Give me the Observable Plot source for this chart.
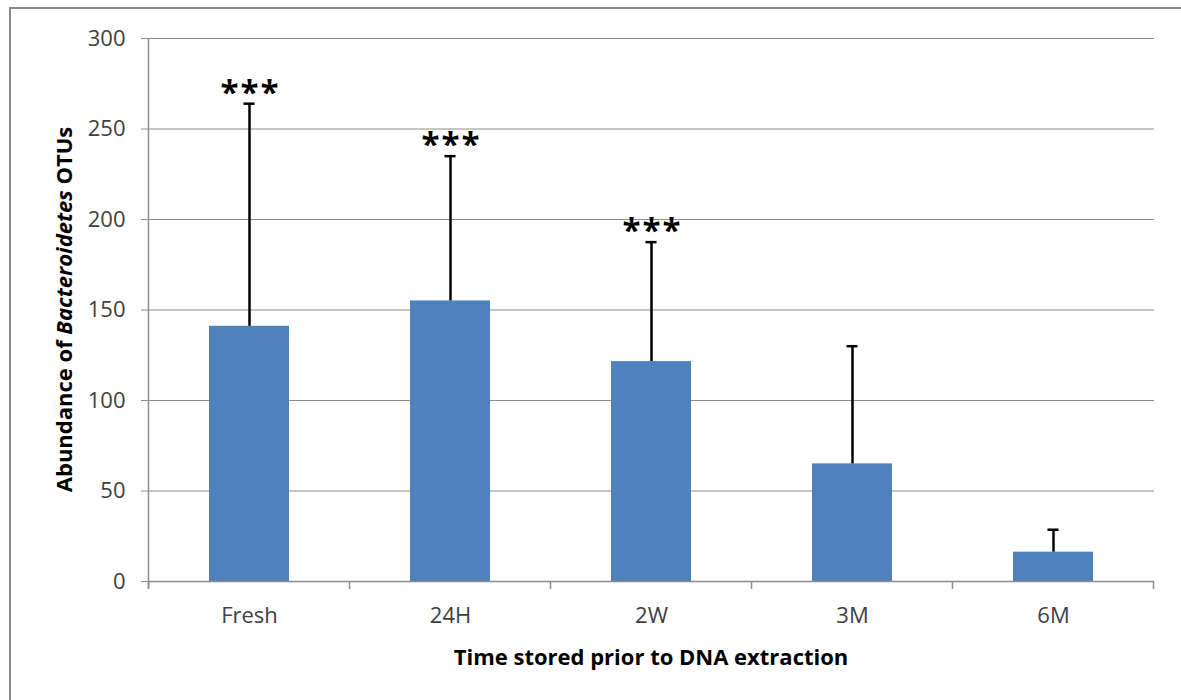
<!DOCTYPE html>
<html><head><meta charset="utf-8">
<script src="https://cdn.jsdelivr.net/npm/d3@7"></script>
<script src="https://cdn.jsdelivr.net/npm/@observablehq/plot@0.6"></script>
<style>
body{margin:0;background:#fff;overflow:hidden;width:1181px;height:700px;position:relative}
#frame{position:absolute;left:9px;top:7px;width:1200px;height:800px;border:2px solid #8c8c8c;box-sizing:border-box;pointer-events:none}
</style></head><body><div id="chart"></div><div id="frame"></div>
<script>
const categories = ["Fresh","24H","2W","3M","6M"];
const means = [141, 155, 121.5, 65, 16.2];
const errors = [123, 80, 66, 65, 12.4];
const stars = ["***","***","***","",""];
const yTicks = [0,50,100,150,200,250,300];
const xTitle = "Time stored prior to DNA extraction";
const yTitleParts = [["Abundance of ", false], ["Bacteroidetes", true], [" OTUs", false]];

const data = categories.map((c,i)=>({cat:c, mean:means[i], top:means[i]+errors[i], star:stars[i]}));
const font = "'Open Sans', sans-serif";
const plot = Plot.plot({
  width:1181, height:700, marginLeft:149, marginRight:27, marginTop:38, marginBottom:119,
  style:{fontFamily:font, fontSize:"22px", color:"#404040", background:"white", overflow:"visible"},
  x:{domain:categories, paddingInner:0.6, paddingOuter:0.3, label:null},
  y:{domain:[0,300], label:null},
  marks:[
    Plot.gridY(yTicks,{stroke:"#8c8c8c", strokeOpacity:1, strokeWidth:1.2}),
    Plot.axisY(yTicks,{tickSize:8, tickPadding:16, stroke:"#8c8c8c", fill:"#404040", label:null, fontSize:22}),
    Plot.axisX({tickSize:0, tickPadding:26, label:null, fontSize:22, fill:"#404040"}),
    Plot.barY(data,{x:"cat", y:"mean", fill:"#4F81BD"}),
    Plot.ruleX(data,{x:"cat", y1:"mean", y2:"top", stroke:"black", strokeWidth:2.5}),
    Plot.tickY(data,{x:"cat", y:"top", stroke:"black", strokeWidth:2.5, insetLeft:34.5, insetRight:34.5}),
    Plot.text(data,{x:"cat", y:"top", text:"star", lineAnchor:"bottom", dy:0, dx:1, fontWeight:"bold", fontSize:33, fill:"black", className:"stars"}),
    Plot.ruleY([0],{stroke:"#8c8c8c", strokeWidth:1.5})
  ]
});
document.getElementById("chart").appendChild(plot);

const svg = d3.select(plot);
svg.selectAll(".stars text").style("letter-spacing","2px");
const xs = plot.scale("x"), ys = plot.scale("y");
const step = xs.step, bw = xs.bandwidth;
const y0 = ys.apply(0), yTop = ys.apply(300);
const left = xs.apply(categories[0]) - (step - bw)/2;
const g = svg.append("g").attr("stroke","#8c8c8c").attr("stroke-width",1.5);
g.append("line").attr("x1",left).attr("x2",left).attr("y1",yTop).attr("y2",y0+8);
for (let i=0;i<=categories.length;i++){
  const x = left + i*step;
  g.append("line").attr("x1",x).attr("x2",x).attr("y1",y0).attr("y2",y0+8);
}
const right = left + categories.length*step;
svg.append("text").attr("x",(left+right)/2).attr("y",y0+84).attr("text-anchor","middle")
  .attr("font-family",font).attr("font-size",22).attr("font-weight","bold").attr("fill","black").text(xTitle);
const yl = svg.append("text").attr("transform",`translate(72,${(yTop+y0)/2}) rotate(-90)`).attr("text-anchor","middle")
  .attr("font-family",font).attr("font-size",22).attr("font-weight","bold").attr("fill","black");
yTitleParts.forEach(([t,it])=>{ const s=yl.append("tspan").text(t); if(it) s.attr("font-style","italic"); });
</script></body></html>
